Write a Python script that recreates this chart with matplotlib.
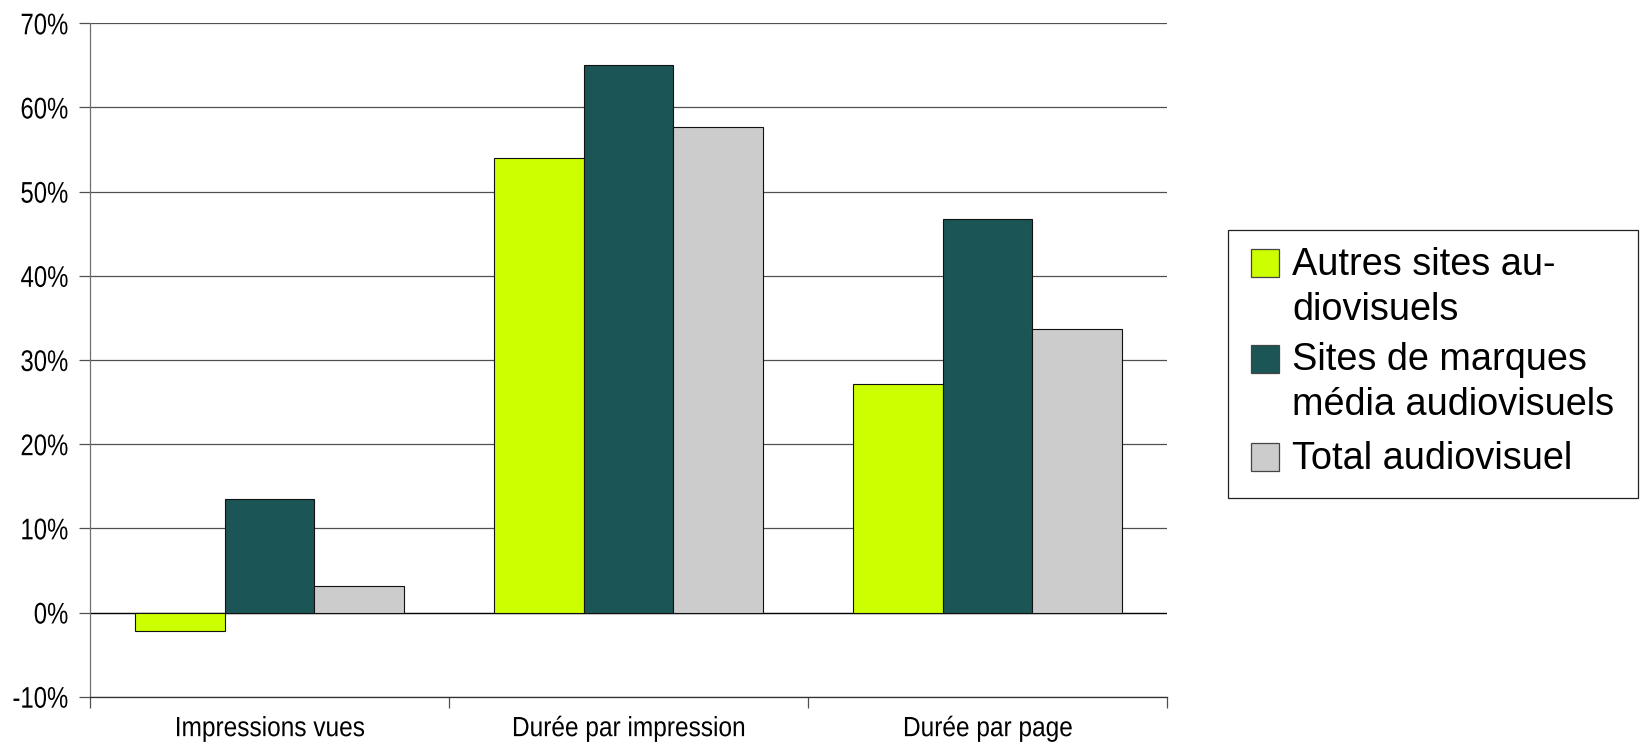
import matplotlib
matplotlib.use("Agg")
import matplotlib.pyplot as plt
from matplotlib.patches import Rectangle
from matplotlib.ticker import FuncFormatter, FixedLocator
from matplotlib.patheffects import AbstractPathEffect
from matplotlib.transforms import Affine2D
import numpy as np

# data (values in %)
categories = ["Impressions vues", "Durée par impression", "Durée par page"]
series_names = ["Autres sites au-\ndiovisuels",
                "Sites de marques\nmédia audiovisuels",
                "Total audiovisuel"]
autres = [-2.2, 54.0, 27.1]
marques = [13.5, 65.0, 46.7]
total = [3.1, 57.7, 33.7]
colors = ["#CCFF00", "#1B5555", "#CCCCCC"]


class Squeeze(AbstractPathEffect):
    # narrow the glyphs horizontally (the axis labels use a condensed face)
    def __init__(self, sx, anchor="center"):
        super().__init__()
        self.sx = sx
        self.anchor = anchor

    def draw_path(self, renderer, gc, tpath, affine, rgbFace=None):
        ext = tpath.get_extents()
        if self.anchor == "right":
            cx = ext.x1
        else:
            cx = (ext.x0 + ext.x1) / 2
        t = Affine2D().translate(-cx, 0).scale(self.sx, 1).translate(cx, 0) + affine
        renderer.draw_path(gc, tpath, t, rgbFace)


W, H = 1641, 755
fig = plt.figure(figsize=(W / 100, H / 100), dpi=100)
ax = fig.add_axes([90 / W, 58.3 / H, 1077 / W, 673.4 / H])

axis_font = ["Liberation Sans", "DejaVu Sans"]
leg_font = ["Liberation Sans", "DejaVu Sans"]

x = np.arange(len(categories))
w = 0.25
for j, vals in enumerate([autres, marques, total]):
    ax.bar(x + (j - 1) * w, vals, width=w, color=colors[j],
           edgecolor="#111111", linewidth=0.8, zorder=3)

ax.set_xlim(-0.5, 2.5)
ax.set_ylim(-10, 70)
ax.set_yticks(np.arange(-10, 71, 10))
ax.yaxis.set_major_formatter(FuncFormatter(lambda v, p: f"{int(round(v))}%"))
ax.yaxis.grid(True, color="#505050", linewidth=0.9, zorder=0)
ax.axhline(0, color="black", linewidth=0.9, zorder=2)
ax.set_axisbelow(True)

ax.set_xticks(x)
ax.set_xticklabels(categories)
ax.xaxis.set_minor_locator(FixedLocator([-0.5, 0.5, 1.5, 2.5]))
ax.tick_params(axis="x", which="major", length=0, pad=14)
ax.tick_params(axis="x", which="minor", length=8, width=0.9,
               color="#505050", direction="out")
ax.tick_params(axis="y", length=8, width=0.9, color="#505050", pad=7.5)

for lab in ax.get_xticklabels():
    lab.set_fontfamily(axis_font)
    lab.set_fontsize(20)
    lab.set_path_effects([Squeeze(0.88, "center")])
for lab in ax.get_yticklabels():
    lab.set_fontfamily(axis_font)
    lab.set_fontsize(21.5)
    lab.set_path_effects([Squeeze(0.8, "right")])

for s in ["top", "right"]:
    ax.spines[s].set_visible(False)
ax.spines["left"].set_color("#707070")
ax.spines["bottom"].set_color("#303030")
ax.spines["left"].set_linewidth(0.9)
ax.spines["bottom"].set_linewidth(0.9)


# legend drawn by hand so the swatch sits on the first line of each label
def fx(px):
    return px / W


def fy(py):
    return 1 - py / H


fig.patches.append(Rectangle((fx(1228), fy(498)), (1638 - 1228) / W, (498 - 230) / H,
                             transform=fig.transFigure, facecolor="white",
                             edgecolor="#222222", linewidth=0.9))
first_baselines = [275, 370.5, 469]
line_step = 45
for k, name in enumerate(series_names):
    b = first_baselines[k]
    fig.patches.append(Rectangle((fx(1251), fy(b + 2)), 28 / W, 28 / H,
                                 transform=fig.transFigure, facecolor=colors[k],
                                 edgecolor="#444444", linewidth=0.9))
    for i, line in enumerate(name.split("\n")):
        fig.text(fx(1292), fy(b + i * line_step), line, fontsize=27.3,
                 family=leg_font, va="baseline", ha="left")

fig.savefig("out.png", dpi=100)
